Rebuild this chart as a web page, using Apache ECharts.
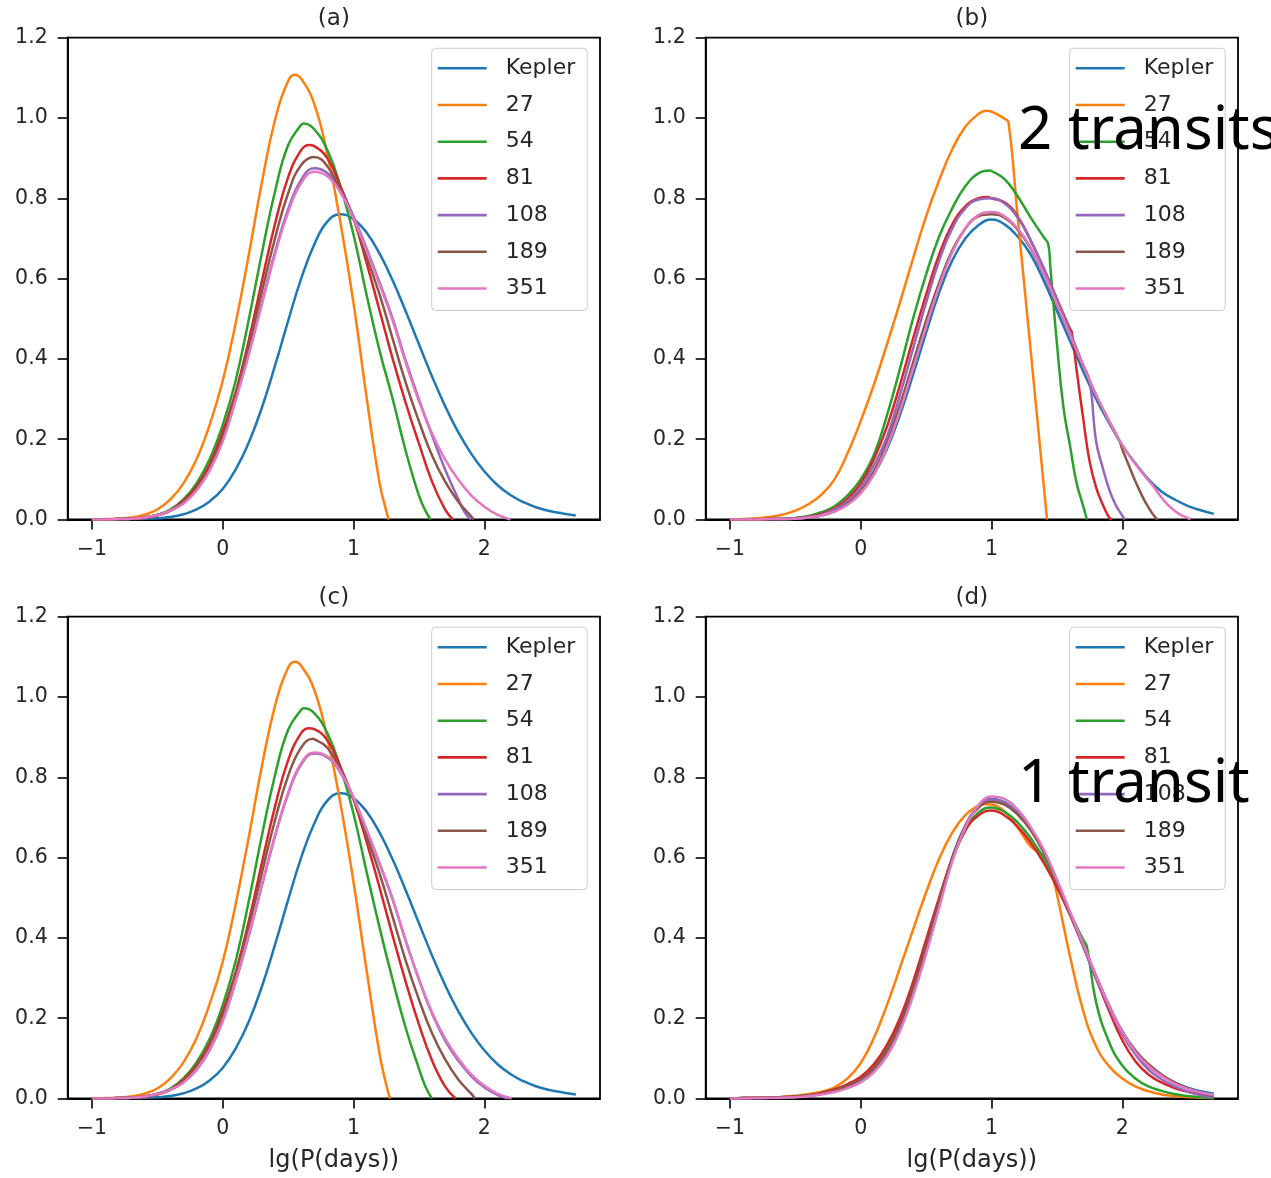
<!DOCTYPE html>
<html><head><meta charset="utf-8">
<script src="https://cdn.jsdelivr.net/npm/echarts@6/dist/echarts.min.js"></script>
<style>html,body{margin:0;padding:0;background:#fff}#c{width:1271px;height:1178px}</style>
</head><body><div id="c"></div>
<script>
// shared x grid (lg P)
const X = [-1.0,-0.9,-0.8,-0.7,-0.6,-0.5,-0.4,-0.3,-0.2,-0.1,0.0,0.1,0.2,0.3,0.4,0.5,0.6,0.7,0.8,0.9,1.0,1.1,1.2,1.3,1.4,1.5,1.6,1.7,1.8,1.9,2.0,2.1,2.2,2.3,2.4,2.5,2.6,2.7];
const seriesNames = ['Kepler','27','54','81','108','189','351'];
const panelTitles = ['(a)','(b)','(c)','(d)'];
const xTickValues = [-1,0,1,2];
const xAxisTitle = 'lg(P(days))';
const annotations = ['2 transits','1 transit'];

// ---- panel (a)
const aKepler = [0,0,0.001,0.001,0.002,0.003,0.006,0.013,0.025,0.045,0.076,0.125,0.192,0.279,0.383,0.494,0.600,0.685,0.742,0.760,0.748,0.715,0.662,0.595,0.518,0.437,0.357,0.283,0.218,0.164,0.120,0.086,0.061,0.043,0.030,0.021,0.015,0.010];
const a27 = [0,0.001,0.002,0.005,0.012,0.025,0.05,0.09,0.15,0.235,0.345,0.49,0.66,0.84,0.995,1.092,1.098,1.035,0.91,0.74,0.54,0.305,0.09];
const a27x = [[0.55,1.108],[1.25,0.022],[1.27,0]];
const a54 = [0,0,0.001,0.002,0.005,0.012,0.025,0.05,0.09,0.15,0.235,0.347,0.499,0.664,0.817,0.932,0.983,0.972,0.92,0.83,0.71,0.56,0.42,0.30,0.17,0.06];
const a54x = [[0.62,0.986],[1.55,0.022],[1.59,0]];
const a81 = [0,0,0.001,0.002,0.004,0.01,0.022,0.046,0.082,0.137,0.218,0.318,0.447,0.594,0.736,0.852,0.92,0.93,0.90,0.83,0.75,0.64,0.52,0.40,0.29,0.19,0.095,0.025];
const a81x = [[0.66,0.933],[1.76,0]];
const a108 = [0,0,0.001,0.002,0.005,0.011,0.022,0.041,0.073,0.123,0.197,0.30,0.415,0.541,0.666,0.772,0.846,0.875,0.863,0.82,0.755,0.675,0.59,0.50,0.395,0.30,0.21,0.125,0.052];
const a108x = [[1.85,0.018],[1.9,0]];
const a189 = [0,0,0.001,0.002,0.005,0.011,0.022,0.042,0.076,0.128,0.205,0.31,0.433,0.568,0.70,0.812,0.883,0.903,0.88,0.82,0.75,0.655,0.56,0.45,0.34,0.245,0.16,0.095,0.045,0.008];
const a189x = [[1.92,0]];
const a351 = [0,0,0.001,0.002,0.005,0.011,0.022,0.04,0.072,0.122,0.194,0.298,0.411,0.536,0.66,0.765,0.838,0.866,0.855,0.815,0.75,0.67,0.585,0.495,0.39,0.295,0.215,0.15,0.10,0.06,0.032,0.012];
const a351x = [[2.2,0]];

// ---- panel (b)
const bKepler = [0,0,0,0.001,0.001,0.002,0.005,0.01,0.02,0.038,0.067,0.112,0.175,0.26,0.36,0.465,0.565,0.645,0.70,0.733,0.747,0.735,0.705,0.66,0.595,0.52,0.445,0.37,0.30,0.24,0.185,0.14,0.10,0.07,0.05,0.034,0.023,0.014];
const b27 = [0,0.001,0.003,0.006,0.012,0.022,0.038,0.062,0.10,0.165,0.245,0.335,0.435,0.54,0.65,0.755,0.845,0.922,0.978,1.01,1.016,0.998,0.755,0.42,0.084];
const b27x = [[0.96,1.018],[1.13,0.99],[1.425,0]];
const b54 = [0,0,0,0.001,0.002,0.004,0.009,0.018,0.033,0.06,0.10,0.16,0.258,0.375,0.50,0.61,0.705,0.775,0.83,0.862,0.868,0.848,0.805,0.752,0.703,0.44,0.185,0.035];
const b54x = [[0.99,0.869],[1.434,0.686],[1.45,0.63],[1.55,0.28],[1.65,0.092],[1.73,0]];
const b81 = [0,0,0,0.001,0.001,0.003,0.007,0.014,0.028,0.052,0.09,0.15,0.23,0.335,0.45,0.56,0.66,0.735,0.78,0.80,0.80,0.79,0.755,0.695,0.625,0.55,0.475,0.255,0.08,0.005];
const b81x = [[0.97,0.803],[1.613,0.468],[1.65,0.375],[1.75,0.145],[1.85,0.038],[1.92,0]];
const b108 = [0,0,0,0.001,0.001,0.003,0.006,0.012,0.025,0.046,0.08,0.135,0.205,0.31,0.425,0.54,0.645,0.725,0.775,0.797,0.80,0.787,0.752,0.695,0.625,0.548,0.468,0.385,0.195,0.075,0.01];
const b108x = [[1.75,0.345],[1.85,0.13],[1.95,0.036],[2.02,0]];
const b189 = [0,0,0,0.001,0.001,0.002,0.005,0.011,0.021,0.04,0.07,0.12,0.19,0.285,0.39,0.495,0.59,0.67,0.725,0.755,0.76,0.752,0.722,0.675,0.61,0.535,0.46,0.385,0.31,0.245,0.175,0.095,0.03];
const b189x = [[1.98,0.195],[2.05,0.135],[2.15,0.06],[2.25,0.006],[2.27,0]];
const b351 = [0,0,0,0.001,0.001,0.002,0.005,0.01,0.02,0.037,0.065,0.112,0.18,0.27,0.375,0.48,0.58,0.665,0.725,0.758,0.766,0.755,0.725,0.677,0.612,0.537,0.46,0.385,0.31,0.245,0.185,0.138,0.097,0.055,0.022,0.004];
const b351x = [[2.237,0.083],[2.35,0.036],[2.45,0.011],[2.52,0]];

// ---- panel (c)
const cKepler = [0,0,0.001,0.001,0.002,0.003,0.006,0.013,0.025,0.045,0.076,0.125,0.192,0.279,0.383,0.494,0.600,0.685,0.742,0.760,0.748,0.715,0.662,0.595,0.518,0.437,0.357,0.283,0.218,0.164,0.120,0.086,0.061,0.043,0.030,0.021,0.015,0.010];
const c27 = [0,0.001,0.002,0.005,0.012,0.025,0.05,0.09,0.15,0.235,0.34,0.485,0.652,0.828,0.978,1.073,1.078,1.018,0.898,0.735,0.54,0.32,0.11];
const c27x = [[0.55,1.088],[1.25,0.035],[1.28,0]];
const c54 = [0,0,0.001,0.002,0.005,0.012,0.025,0.05,0.09,0.148,0.232,0.343,0.492,0.655,0.805,0.918,0.968,0.96,0.91,0.825,0.71,0.565,0.425,0.295,0.175,0.075];
const c54x = [[0.62,0.972],[1.55,0.03],[1.6,0]];
const c81 = [0,0,0.001,0.002,0.004,0.01,0.022,0.046,0.082,0.136,0.216,0.315,0.442,0.587,0.727,0.842,0.91,0.92,0.892,0.826,0.745,0.64,0.525,0.405,0.29,0.185,0.095,0.03];
const c81x = [[0.66,0.922],[1.78,0]];
const c108 = [0,0,0.001,0.002,0.005,0.011,0.022,0.04,0.071,0.12,0.192,0.292,0.405,0.53,0.653,0.758,0.832,0.859,0.85,0.812,0.748,0.668,0.584,0.495,0.392,0.297,0.212,0.145,0.095,0.056,0.028,0.009];
const c108x = [[2.18,0]];
const c189 = [0,0,0.001,0.002,0.005,0.011,0.022,0.042,0.076,0.128,0.205,0.306,0.428,0.562,0.693,0.803,0.874,0.895,0.874,0.818,0.748,0.655,0.56,0.452,0.343,0.247,0.163,0.098,0.048,0.012];
const c189x = [[0.69,0.896],[1.93,0]];
const c351 = [0,0,0.001,0.002,0.005,0.011,0.022,0.04,0.072,0.121,0.193,0.294,0.408,0.533,0.656,0.761,0.835,0.862,0.852,0.814,0.75,0.67,0.586,0.497,0.393,0.298,0.215,0.15,0.10,0.06,0.032,0.012];
const c351x = [[2.21,0]];

// ---- panel (d)
const dKepler = [0,0.001,0.001,0.002,0.003,0.004,0.007,0.012,0.02,0.031,0.046,0.072,0.115,0.18,0.27,0.375,0.49,0.60,0.68,0.728,0.746,0.738,0.712,0.672,0.615,0.542,0.462,0.382,0.302,0.226,0.162,0.112,0.08,0.058,0.04,0.027,0.018,0.012];
const d27 = [0,0.001,0.002,0.003,0.004,0.007,0.011,0.017,0.028,0.05,0.088,0.15,0.232,0.325,0.42,0.513,0.597,0.662,0.706,0.729,0.732,0.715,0.675,0.628,0.605,0.51,0.355,0.22,0.13,0.08,0.05,0.03,0.018,0.01,0.006,0.004,0.002,0.001];
const d27x = [[0.95,0.733],[1.43,0.598],[1.45,0.575]];
const d54 = [0,0.001,0.001,0.002,0.003,0.005,0.008,0.013,0.022,0.034,0.051,0.08,0.127,0.193,0.283,0.388,0.495,0.595,0.668,0.712,0.725,0.714,0.688,0.648,0.598,0.532,0.462,0.396,0.24,0.14,0.082,0.05,0.03,0.019,0.011,0.006,0.003,0.001];
const d54x = [[1.73,0.378]];
const d81 = [0,0.001,0.002,0.002,0.004,0.005,0.008,0.014,0.023,0.036,0.054,0.085,0.133,0.20,0.29,0.395,0.50,0.598,0.668,0.705,0.717,0.705,0.677,0.637,0.587,0.527,0.457,0.38,0.298,0.218,0.145,0.093,0.06,0.04,0.026,0.017,0.011,0.007];
const d108 = [0,0.001,0.001,0.002,0.003,0.004,0.007,0.011,0.018,0.029,0.044,0.07,0.112,0.176,0.265,0.37,0.485,0.595,0.678,0.727,0.745,0.737,0.71,0.67,0.613,0.54,0.46,0.38,0.30,0.225,0.16,0.11,0.072,0.048,0.03,0.017,0.008,0.003];
const d189 = [0,0.001,0.001,0.002,0.003,0.005,0.008,0.012,0.02,0.032,0.048,0.075,0.119,0.185,0.275,0.38,0.493,0.60,0.678,0.724,0.739,0.732,0.707,0.668,0.613,0.542,0.463,0.385,0.306,0.232,0.168,0.12,0.086,0.06,0.04,0.025,0.014,0.006];
const d351 = [0,0,0.001,0.001,0.002,0.003,0.006,0.01,0.016,0.026,0.04,0.065,0.105,0.168,0.255,0.36,0.475,0.59,0.675,0.73,0.752,0.746,0.72,0.676,0.62,0.546,0.466,0.386,0.306,0.231,0.166,0.116,0.081,0.056,0.037,0.024,0.015,0.009];

const panels = [
  {vals:[aKepler,a27,a54,a81,a108,a189,a351], extra:[null,a27x,a54x,a81x,a108x,a189x,a351x]},
  {vals:[bKepler,b27,b54,b81,b108,b189,b351], extra:[null,b27x,b54x,b81x,b108x,b189x,b351x]},
  {vals:[cKepler,c27,c54,c81,c108,c189,c351], extra:[null,c27x,c54x,c81x,c108x,c189x,c351x]},
  {vals:[dKepler,d27,d54,d81,d108,d189,d351], extra:[null,d27x,d54x,null,null,null,null]}
];

const colors = ['#1f77b4','#ff7f0e','#2ca02c','#d62728','#9467bd','#8c564b','#e377c2'];
const gridBox = [{left:67.7,top:37.7},{left:705.7,top:37.7},{left:67.7,top:616.7},{left:705.7,top:616.7}];
const GW = 532.3, GH = 481.8;
const FONT = 'DejaVu Sans';
const TXT = '#262626';

function build(vals, extra) {
  const pts = [];
  for (let i = 0; i < vals.length; i++) pts.push([X[i], vals[i]]);
  if (extra) extra.forEach(p => pts.push([p[0], p[1]]));
  pts.sort((p, q) => p[0] - q[0]);
  return pts;
}

const series = [];
panels.forEach((p, gi) => {
  p.vals.forEach((v, si) => {
    series.push({
      type: 'line', name: seriesNames[si], xAxisIndex: gi, yAxisIndex: gi,
      data: build(v, p.extra[si]), showSymbol: false, symbol: 'none',
      smooth: 0.45, color: colors[si],
      lineStyle: {width: 2.5, color: colors[si]}, itemStyle: {color: colors[si]},
      emphasis: {disabled: true}, silent: true, clip: true, z: 2
    });
  });
});

const option = {
  animation: false,
  backgroundColor: '#fff',
  textStyle: {fontFamily: FONT},
  title: panelTitles.map((t, i) => ({
    text: t, left: gridBox[i].left + GW / 2, top: gridBox[i].top - 30, textAlign: 'center', padding: 0,
    textStyle: {fontSize: 23, fontWeight: 'normal', color: TXT, fontFamily: FONT}
  })),
  grid: gridBox.map(g => ({left: g.left, top: g.top, width: GW, height: GH, show: true,
    borderColor: '#000', borderWidth: 1.8, backgroundColor: 'transparent', containLabel: false})),
  xAxis: gridBox.map((g, i) => ({
    type: 'value', gridIndex: i, min: -1.185, max: 2.885,
    axisLine: {show: true, onZero: false, lineStyle: {color: '#000', width: 1.8}},
    axisTick: {show: true, length: 10, customValues: xTickValues, lineStyle: {color: '#000', width: 1.6}},
    axisLabel: {customValues: xTickValues, formatter: v => (v < 0 ? '\u2212' : '') + Math.abs(v),
      fontSize: 20.5, color: TXT, margin: 20, fontFamily: FONT},
    splitLine: {show: false},
    name: i >= 2 ? xAxisTitle : '', nameLocation: 'middle', nameGap: 50,
    nameTextStyle: {fontSize: 24, color: TXT, fontFamily: FONT}
  })),
  yAxis: gridBox.map((g, i) => ({
    type: 'value', gridIndex: i, min: 0, max: 1.2, interval: 0.2,
    axisLine: {show: true, onZero: false, lineStyle: {color: '#000', width: 1.8}},
    axisTick: {show: true, length: 10, lineStyle: {color: '#000', width: 1.6}},
    axisLabel: {formatter: v => v.toFixed(1), fontSize: 20.5, color: TXT, margin: 20, fontFamily: FONT},
    splitLine: {show: false}
  })),
  legend: gridBox.map(g => ({
    data: seriesNames, orient: 'vertical', left: g.left + 364, top: g.top + 10.6,
    padding: [8, 12, 10, 6], itemWidth: 49, itemHeight: 2.6, itemGap: 12.7, icon: 'rect',
    backgroundColor: 'rgba(255,255,255,0.8)', borderColor: '#cccccc', borderWidth: 1, borderRadius: 4,
    textStyle: {fontSize: 22, lineHeight: 24, color: TXT, fontFamily: FONT, padding: [0, 0, 0, 14]},
    selectedMode: false, z: 10
  })),
  graphic: [
    {type: 'text', x: 1018, y: 132, z: 100, silent: true,
      style: {text: annotations[0], font: '60px "Noto Sans"', fill: '#000', align: 'left', verticalAlign: 'middle', textAlign: 'left', textVerticalAlign: 'middle'}},
    {type: 'text', x: 1018, y: 785, z: 100, silent: true,
      style: {text: annotations[1], font: '60px "Noto Sans"', fill: '#000', align: 'left', verticalAlign: 'middle', textAlign: 'left', textVerticalAlign: 'middle'}}
  ],
  series: series
};

const chart = echarts.init(document.getElementById('c'), null, {renderer: 'canvas', width: 1271, height: 1178});
chart.setOption(option);
</script>
</body></html>
